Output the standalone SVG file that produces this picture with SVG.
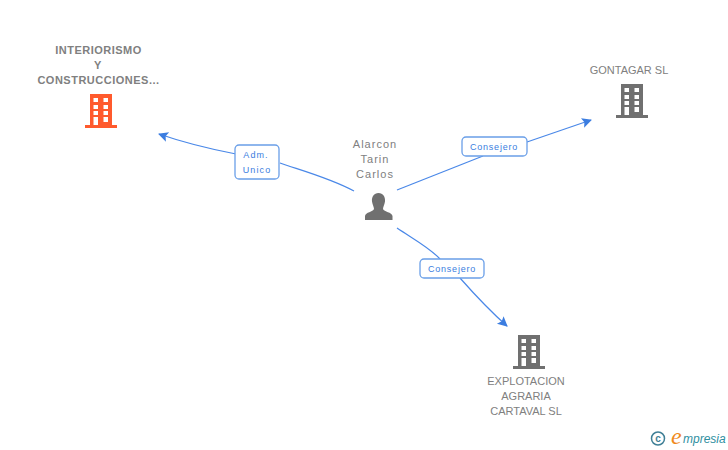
<svg xmlns="http://www.w3.org/2000/svg" width="728" height="450" viewBox="0 0 728 450">
<style>
.n{font-family:"Liberation Sans",Arial,sans-serif;font-size:11px;fill:#808080;text-anchor:middle}
.b{font-weight:bold;letter-spacing:.5px}
.p{letter-spacing:1px}
.l{font-family:"Liberation Sans",Arial,sans-serif;font-size:9px;fill:#3b7de0;text-anchor:middle;letter-spacing:1.1px}
.k{letter-spacing:.8px}
.c{fill:none;stroke:#4a88e8;stroke-width:1.2}
.box{fill:#fff;stroke:#6a9fe8;stroke-width:1.3}
.w{fill:#fff}
</style>
<defs>
<marker id="a" markerUnits="userSpaceOnUse" markerWidth="12" markerHeight="12" refX="9" refY="5" orient="auto"><path d="M0 0L10 5L0 10L2 5Z" fill="#3b7de0"/></marker>
<g id="bld">
<path d="M-11 -17H11V14H16V17H-16V14H-11Z"/>
<path class="w" d="M-7.500 -13h4.500v4h-4.500zM2.500 -13h4.500v4h-4.500zM-7.500 -6h4.500v4h-4.500zM2.500 -6h4.500v4h-4.500zM-7.500 0h4.500v4h-4.500zM2.500 0h4.500v4h-4.500zM-7.500 6h4.500v8h-4.500zM2.500 6h4.500v5h-4.500z"/>
</g>
</defs>
<g id="connectors">
<path class="c" d="M354 191C330 178 300 170 280 163"/>
<path class="c" marker-end="url(#a)" d="M236 154C210 149 185 143 159 134"/>
<path class="c" d="M397 190L483 156"/>
<path class="c" marker-end="url(#a)" d="M527 142L591 120"/>
<path class="c" d="M397 228C415 240 430 248 440 259"/>
<path class="c" marker-end="url(#a)" d="M460 278C475 295 490 311 507 326"/>
</g>
<g id="node-interiorismo">
<text class="n b" x="98.500" y="54">INTERIORISMO</text>
<text class="n b" x="98" y="69">Y</text>
<text class="n b" x="98.500" y="84">CONSTRUCCIONES...</text>
<use href="#bld" x="101" y="111" fill="#ff5a2d"/>
</g>
<g id="node-gontagar">
<text class="n" x="629" y="74">GONTAGAR SL</text>
<use href="#bld" x="632" y="101" fill="#707070"/>
</g>
<g id="node-explotacion">
<use href="#bld" x="529" y="352" fill="#707070"/>
<text class="n" x="526" y="385">EXPLOTACION</text>
<text class="n" x="526" y="400">AGRARIA</text>
<text class="n" x="526" y="415">CARTAVAL SL</text>
</g>
<g id="node-alarcon">
<text class="n p" x="375" y="148">Alarcon</text>
<text class="n p" x="375" y="163">Tarin</text>
<text class="n p" x="375" y="178">Carlos</text>
<path fill="#707070" d="M378.500 193C383 193 385.500 197 385 201.500C384.500 205 383 207 383 209C384 212 392 212 392.500 216V220H365V216C365.500 212 373 212 374 209C374 207 372.500 205 372 201.500C371.500 197 374 193 378.500 193Z"/>
</g>
<g id="label-adm">
<rect class="box" x="235" y="145" width="44" height="34" rx="4"/>
<text class="l" x="256" y="158">Adm.</text>
<text class="l" x="257" y="173">Unico</text>
</g>
<g id="label-consejero-1">
<rect class="box" x="462" y="137" width="65" height="19" rx="4"/>
<text class="l k" x="494" y="150">Consejero</text>
</g>
<g id="label-consejero-2">
<rect class="box" x="420" y="259" width="64" height="19" rx="4"/>
<text class="l k" x="452" y="272">Consejero</text>
</g>
<g id="logo">
<circle cx="658" cy="438.500" r="6.500" fill="none" stroke="#3f7f96" stroke-width="1.500"/>
<text x="658" y="442" font-family="'Liberation Sans',sans-serif" font-size="10" font-weight="bold" fill="#3f7f96" text-anchor="middle">c</text>
<text x="671" y="444" font-family="'Liberation Serif',serif" font-style="italic" font-size="24" fill="#f08a1c">e</text>
<text x="683" y="443" font-family="'Liberation Sans',sans-serif" font-style="italic" font-size="12" fill="#2f8f9f">mpresia</text>
</g>
</svg>
